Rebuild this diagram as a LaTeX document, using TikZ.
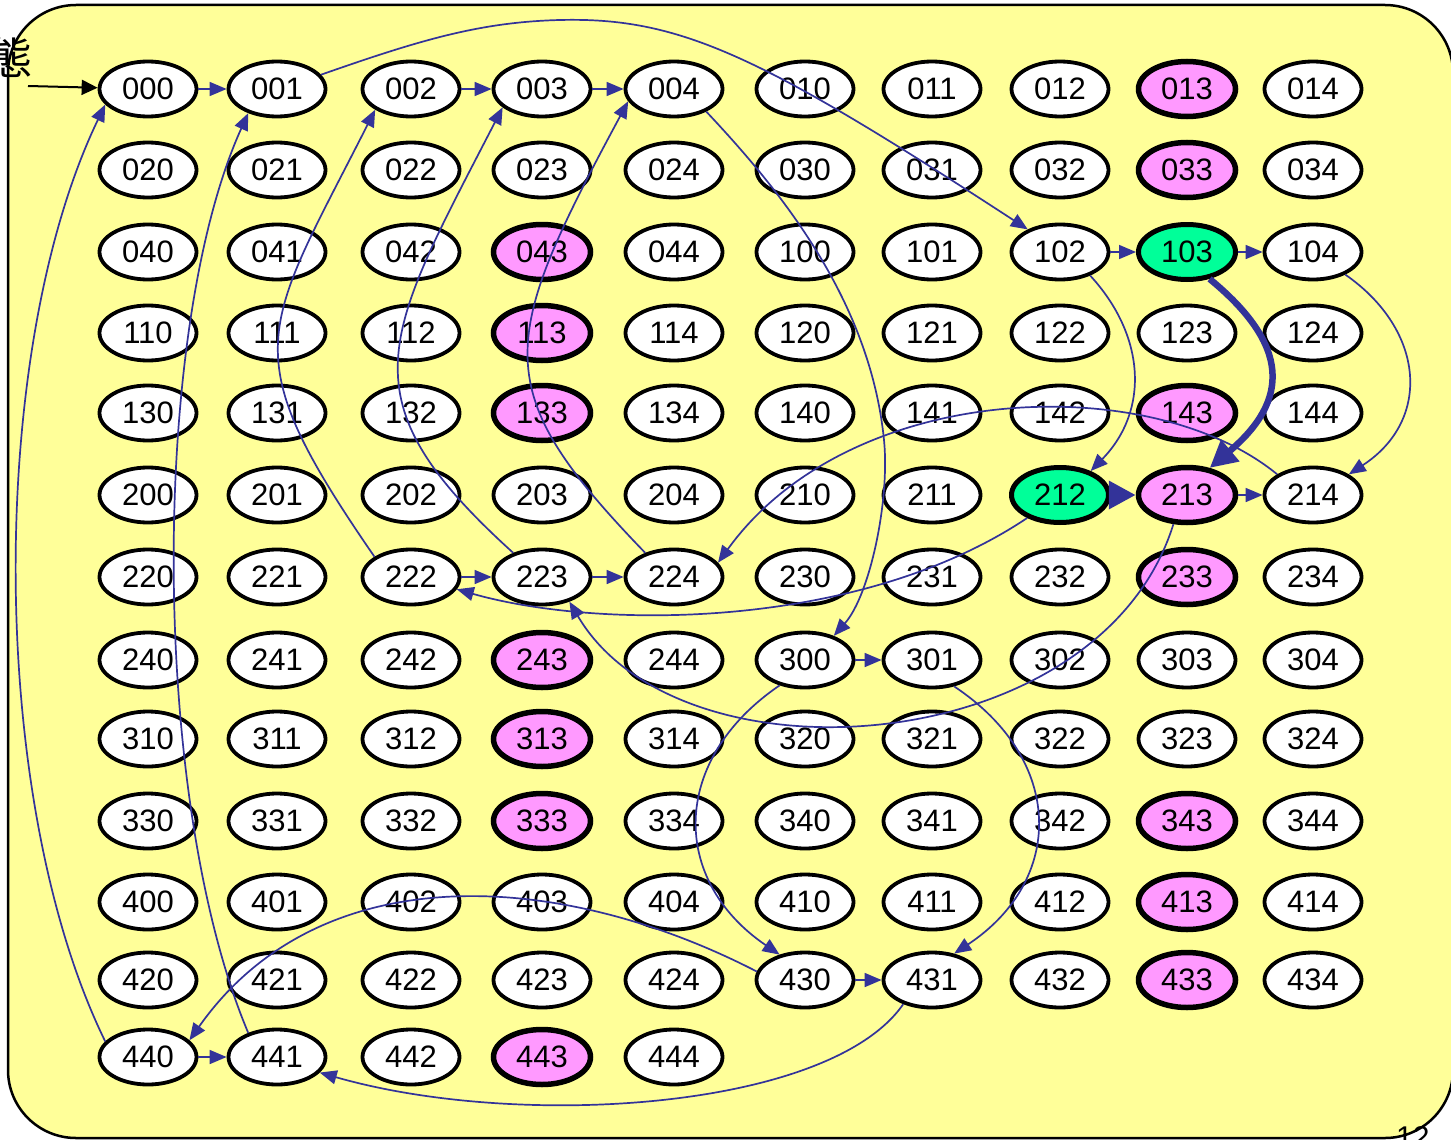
\documentclass[tikz,border=0pt]{standalone}
\usepackage{fontspec}
\setmainfont{Liberation Sans}
\newfontfamily\cjkfont{Noto Sans CJK JP}
\usetikzlibrary{shapes.geometric,arrows.meta}
\definecolor{bgy}{HTML}{FFFF99}
\definecolor{pinkc}{HTML}{FF99FF}
\definecolor{greenc}{HTML}{00FF99}
\definecolor{edgec}{HTML}{333399}
\tikzset{
  wnode/.style={draw, ellipse, line width=3.8pt, fill=white, minimum width=97pt, minimum height=55pt, inner sep=0pt, font=\fontsize{31}{31}\selectfont},
  pnode/.style={wnode, fill=pinkc, line width=5.5pt},
  gnode/.style={wnode, fill=greenc, line width=5pt},
  conn/.style={draw=edgec, line width=1.7pt, -{Triangle[length=17pt,width=14pt]}},
  bigconn/.style={draw=edgec, line width=6.5pt, -{Triangle[length=27pt,width=27pt]}},
}
\newcommand\gridrow[2]{%
  \foreach \lab/\st [count=\c from 0] in {#2}{%
    \pgfmathsetmacro\xx{{148,277,411,542,674,805,932,1060,1187,1313}[\c]}%
    \node[\st] (n\lab) at (\xx,#1) {\lab};
  }%
}
\begin{document}
\begin{tikzpicture}[x=1pt,y=-1pt]
\useasboundingbox (0,0) rectangle (1451,1140);
\fill[white] (0,0) rectangle (1451,1140);
\draw[line width=2.5pt, fill=bgy, rounded corners=68pt] (8,5) rectangle (1453,1138);
\node[font=\cjkfont\fontsize{44}{44}\selectfont, inner sep=0pt] (tai) at (11,57) {態};
\node[anchor=base west, inner sep=0pt, font=\fontsize{30}{30}\selectfont] (pg) at (1396,1147) {12};

\gridrow{89}{000/wnode,001/wnode,002/wnode,003/wnode,004/wnode,010/wnode,011/wnode,012/wnode,013/pnode,014/wnode}
\gridrow{170}{020/wnode,021/wnode,022/wnode,023/wnode,024/wnode,030/wnode,031/wnode,032/wnode,033/pnode,034/wnode}
\gridrow{252}{040/wnode,041/wnode,042/wnode,043/pnode,044/wnode,100/wnode,101/wnode,102/wnode,103/gnode,104/wnode}
\gridrow{333}{110/wnode,111/wnode,112/wnode,113/pnode,114/wnode,120/wnode,121/wnode,122/wnode,123/wnode,124/wnode}
\gridrow{413}{130/wnode,131/wnode,132/wnode,133/pnode,134/wnode,140/wnode,141/wnode,142/wnode,143/pnode,144/wnode}
\gridrow{495}{200/wnode,201/wnode,202/wnode,203/wnode,204/wnode,210/wnode,211/wnode,212/gnode,213/pnode,214/wnode}
\gridrow{577}{220/wnode,221/wnode,222/wnode,223/wnode,224/wnode,230/wnode,231/wnode,232/wnode,233/pnode,234/wnode}
\gridrow{660}{240/wnode,241/wnode,242/wnode,243/pnode,244/wnode,300/wnode,301/wnode,302/wnode,303/wnode,304/wnode}
\gridrow{739}{310/wnode,311/wnode,312/wnode,313/pnode,314/wnode,320/wnode,321/wnode,322/wnode,323/wnode,324/wnode}
\gridrow{821}{330/wnode,331/wnode,332/wnode,333/pnode,334/wnode,340/wnode,341/wnode,342/wnode,343/pnode,344/wnode}
\gridrow{902}{400/wnode,401/wnode,402/wnode,403/wnode,404/wnode,410/wnode,411/wnode,412/wnode,413/pnode,414/wnode}
\gridrow{980}{420/wnode,421/wnode,422/wnode,423/wnode,424/wnode,430/wnode,431/wnode,432/wnode,433/pnode,434/wnode}
\gridrow{1057}{440/wnode,441/wnode,442/wnode,443/pnode,444/wnode}

% initial arrow
\coordinate (init) at (28,86);
\draw[line width=2pt, -{Triangle[length=16pt,width=15pt]}] (init) -- (n000);

% straight connectors
\draw[conn] (n000) -- (n001);
\draw[conn] (n002) -- (n003);
\draw[conn] (n003) -- (n004);
\draw[conn] (n102) -- (n103);
\draw[conn] (n103) -- (n104);
\draw[conn] (n213) -- (n214);
\draw[conn] (n222) -- (n223);
\draw[conn] (n223) -- (n224);
\draw[conn] (n300) -- (n301);
\draw[conn] (n430) -- (n431);
\draw[conn] (n440) -- (n441);
\draw[bigconn] (n212) -- (n213);

% curved connectors
\draw[conn] (n001.18) .. controls (420,40) and (480,22) .. (560,20)
   .. controls (680,17) and (760,55) .. (n102.145);
\draw[conn] (n004.-35) .. controls (780,190) and (870,300) .. (884,440)
   .. controls (890,500) and (870,595) .. (n300.40);
\draw[conn] (n222.151) .. controls (232,350) and (262,333) .. (n002.-150);
\draw[conn] (n223.140) .. controls (342,398) and (383,339) .. (n003.-155);
\draw[conn] (n224.140) .. controls (487,389) and (498,343) .. (n004.-165);
\draw[bigconn] (n103.-50) .. controls (1290,345) and (1290,400) .. (n213.50);
\draw[conn] (n102.-38) .. controls (1145,335) and (1150,410) .. (n212.38);
\draw[conn] (n104.-35) .. controls (1425,330) and (1432,420) .. (n214.30);
\draw[conn] (n214.150) .. controls (1150,370) and (850,380) .. (n224.18);
\draw[conn] (n212.-145) .. controls (860,630) and (600,630) .. (n222.-15);
\draw[conn] (n213.-115) .. controls (1100,760) and (680,790) .. (n223.-42);
\draw[conn] (n300.-135) .. controls (670,760) and (670,880) .. (n430.135);
\draw[conn] (n301.-50) .. controls (1065,760) and (1065,880) .. (n431.50);
\draw[conn] (n430.170) .. controls (560,870) and (320,855) .. (n440.22);
\draw[conn] (n431.-140) .. controls (830,1110) and (520,1130) .. (n441.-20);
\draw[conn] (n440.160) .. controls (-13,800) and (-13,350) .. (n000.-160);
\draw[conn] (n441.140) .. controls (150,800) and (150,330) .. (n001.-140);
\end{tikzpicture}
\end{document}
